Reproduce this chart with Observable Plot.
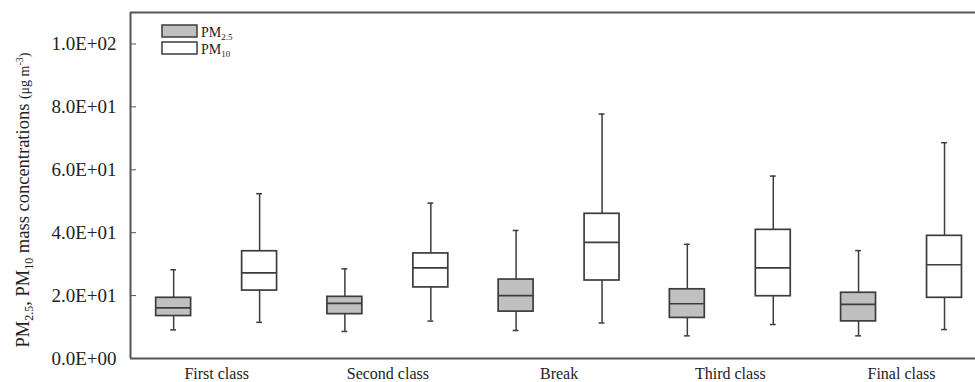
<!DOCTYPE html>
<html><head><meta charset="utf-8">
<script src="https://cdn.jsdelivr.net/npm/d3@7"></script>
<script src="https://cdn.jsdelivr.net/npm/@observablehq/plot@0.6"></script>
<style>
body{margin:0;background:#fff}
svg, svg text {font-family: "Liberation Serif", "Times New Roman", serif !important;}
</style>
</head><body><div id="chart"></div>
<script>
const categories = ["First class", "Second class", "Break", "Third class", "Final class"];
const pollutants = ["PM2.5", "PM10"];
const pm25Min = [9.1, 8.6, 8.9, 7.2, 7.2];
const pm25Q1 = [13.5, 14.1, 14.9, 12.9, 11.8];
const pm25Median = [16.1, 17.5, 20.0, 17.4, 17.2];
const pm25Q3 = [19.3, 19.6, 25.1, 22.0, 20.9];
const pm25Max = [28.2, 28.5, 40.7, 36.3, 34.3];
const pm10Min = [11.5, 11.9, 11.3, 10.8, 9.2];
const pm10Q1 = [21.6, 22.6, 24.8, 19.8, 19.3];
const pm10Median = [27.2, 28.8, 36.9, 28.8, 29.8];
const pm10Q3 = [34.1, 33.4, 46.0, 40.9, 39.0];
const pm10Max = [52.4, 49.4, 77.7, 58.0, 68.6];
const yTicks = [0, 20, 40, 60, 80, 100];

const rows = [];
categories.forEach((c, i) => {
  rows.push({category: c, idx: i, pollutant: pollutants[0], min: pm25Min[i], q1: pm25Q1[i], median: pm25Median[i], q3: pm25Q3[i], max: pm25Max[i]});
  rows.push({category: c, idx: i, pollutant: pollutants[1], min: pm10Min[i], q1: pm10Q1[i], median: pm10Median[i], q3: pm10Q3[i], max: pm10Max[i]});
});

const offset = {"PM2.5": -0.251, "PM10": 0.251};
const half = 0.102, cap = 0.017;
const cx = d => d.idx + offset[d.pollutant];
const xDomain = [-0.503, 4.432];
const yDomain = [0, 110];
const ink = "#3c3c3c";
const serif = "Liberation Serif, Times New Roman, serif";

const fmt = d => {
  const [m, e] = d.toExponential(1).split("e");
  const sign = e[0] === "-" ? "-" : "+";
  return `${m}E${sign}${String(Math.abs(+e)).padStart(2, "0")}`;
};

const plot = Plot.plot({
  width: 975, height: 382,
  marginLeft: 130, marginRight: 0, marginTop: 12, marginBottom: 24,
  style: {fontFamily: serif, background: "#fff", color: "#222"},
  x: {domain: xDomain, axis: null},
  y: {domain: yDomain, axis: null},
  marks: [
    Plot.ruleX(rows, {x: cx, y1: "min", y2: "q1", stroke: ink, strokeWidth: 1.5}),
    Plot.ruleX(rows, {x: cx, y1: "q3", y2: "max", stroke: ink, strokeWidth: 1.5}),
    Plot.ruleY(rows, {y: "min", x1: d => cx(d) - cap, x2: d => cx(d) + cap, stroke: ink, strokeWidth: 1.5}),
    Plot.ruleY(rows, {y: "max", x1: d => cx(d) - cap, x2: d => cx(d) + cap, stroke: ink, strokeWidth: 1.5}),
    Plot.rect(rows.filter(d => d.pollutant === "PM2.5"), {x1: d => cx(d) - half, x2: d => cx(d) + half, y1: "q1", y2: "q3", fill: "#c0c0c0", stroke: ink, strokeWidth: 1.7}),
    Plot.rect(rows.filter(d => d.pollutant === "PM10"), {x1: d => cx(d) - half, x2: d => cx(d) + half, y1: "q1", y2: "q3", fill: "#ffffff", stroke: ink, strokeWidth: 1.7}),
    Plot.ruleY(rows, {y: "median", x1: d => cx(d) - half, x2: d => cx(d) + half, stroke: ink, strokeWidth: 1.7}),
    Plot.axisY(yTicks, {tickSize: 0, tickPadding: 14, tickFormat: fmt, fontSize: 19, fontFamily: serif, label: null}),
    Plot.axisY(yTicks, {tickSize: 6, dx: 6, text: null, label: null, stroke: "#555"}),
    Plot.axisX(categories.map((c, i) => i), {tickSize: 0, tickPadding: 9, tickFormat: i => categories[i], fontSize: 16, fontFamily: serif, label: null}),
    Plot.ruleX([xDomain[0]], {stroke: "#555", strokeWidth: 2}),
    Plot.ruleY(yDomain, {stroke: "#555", strokeWidth: 2})
  ]
});

document.getElementById("chart").appendChild(plot);
const svg = d3.select(plot);

// y-axis title with subscripts / superscript
const t = svg.append("text")
  .attr("transform", "translate(29,200) rotate(-90)")
  .attr("text-anchor", "middle")
  .attr("fill", "#222")
  .style("font-size", "18.5px");
t.append("tspan").text("PM");
t.append("tspan").attr("dy", 4).style("font-size", "12px").text("2.5");
t.append("tspan").attr("dy", -4).text(", PM");
t.append("tspan").attr("dy", 4).style("font-size", "12px").text("10");
t.append("tspan").attr("dy", -4).text(" mass concentrations ");
t.append("tspan").style("font-size", "14px").text("(μg m");
t.append("tspan").attr("dy", -6).style("font-size", "10px").text("-3");
t.append("tspan").attr("dy", 6).style("font-size", "14px").text(")");

// legend
const legend = [
  {name: "PM", sub: "2.5", fill: "#c0c0c0", y: 25},
  {name: "PM", sub: "10", fill: "#ffffff", y: 42}
];
const lg = svg.append("g").attr("text-anchor", "start");
legend.forEach(l => {
  lg.append("rect").attr("x", 162).attr("y", l.y).attr("width", 35).attr("height", 12)
    .attr("fill", l.fill).attr("stroke", ink).attr("stroke-width", 1.5);
  const lt = lg.append("text").attr("x", 201).attr("y", l.y + 11.5).attr("text-anchor", "start").attr("fill", "#222").style("font-size", "14px");
  lt.append("tspan").text(l.name);
  lt.append("tspan").attr("dy", 3).style("font-size", "9px").text(l.sub);
});
</script>
</body></html>
